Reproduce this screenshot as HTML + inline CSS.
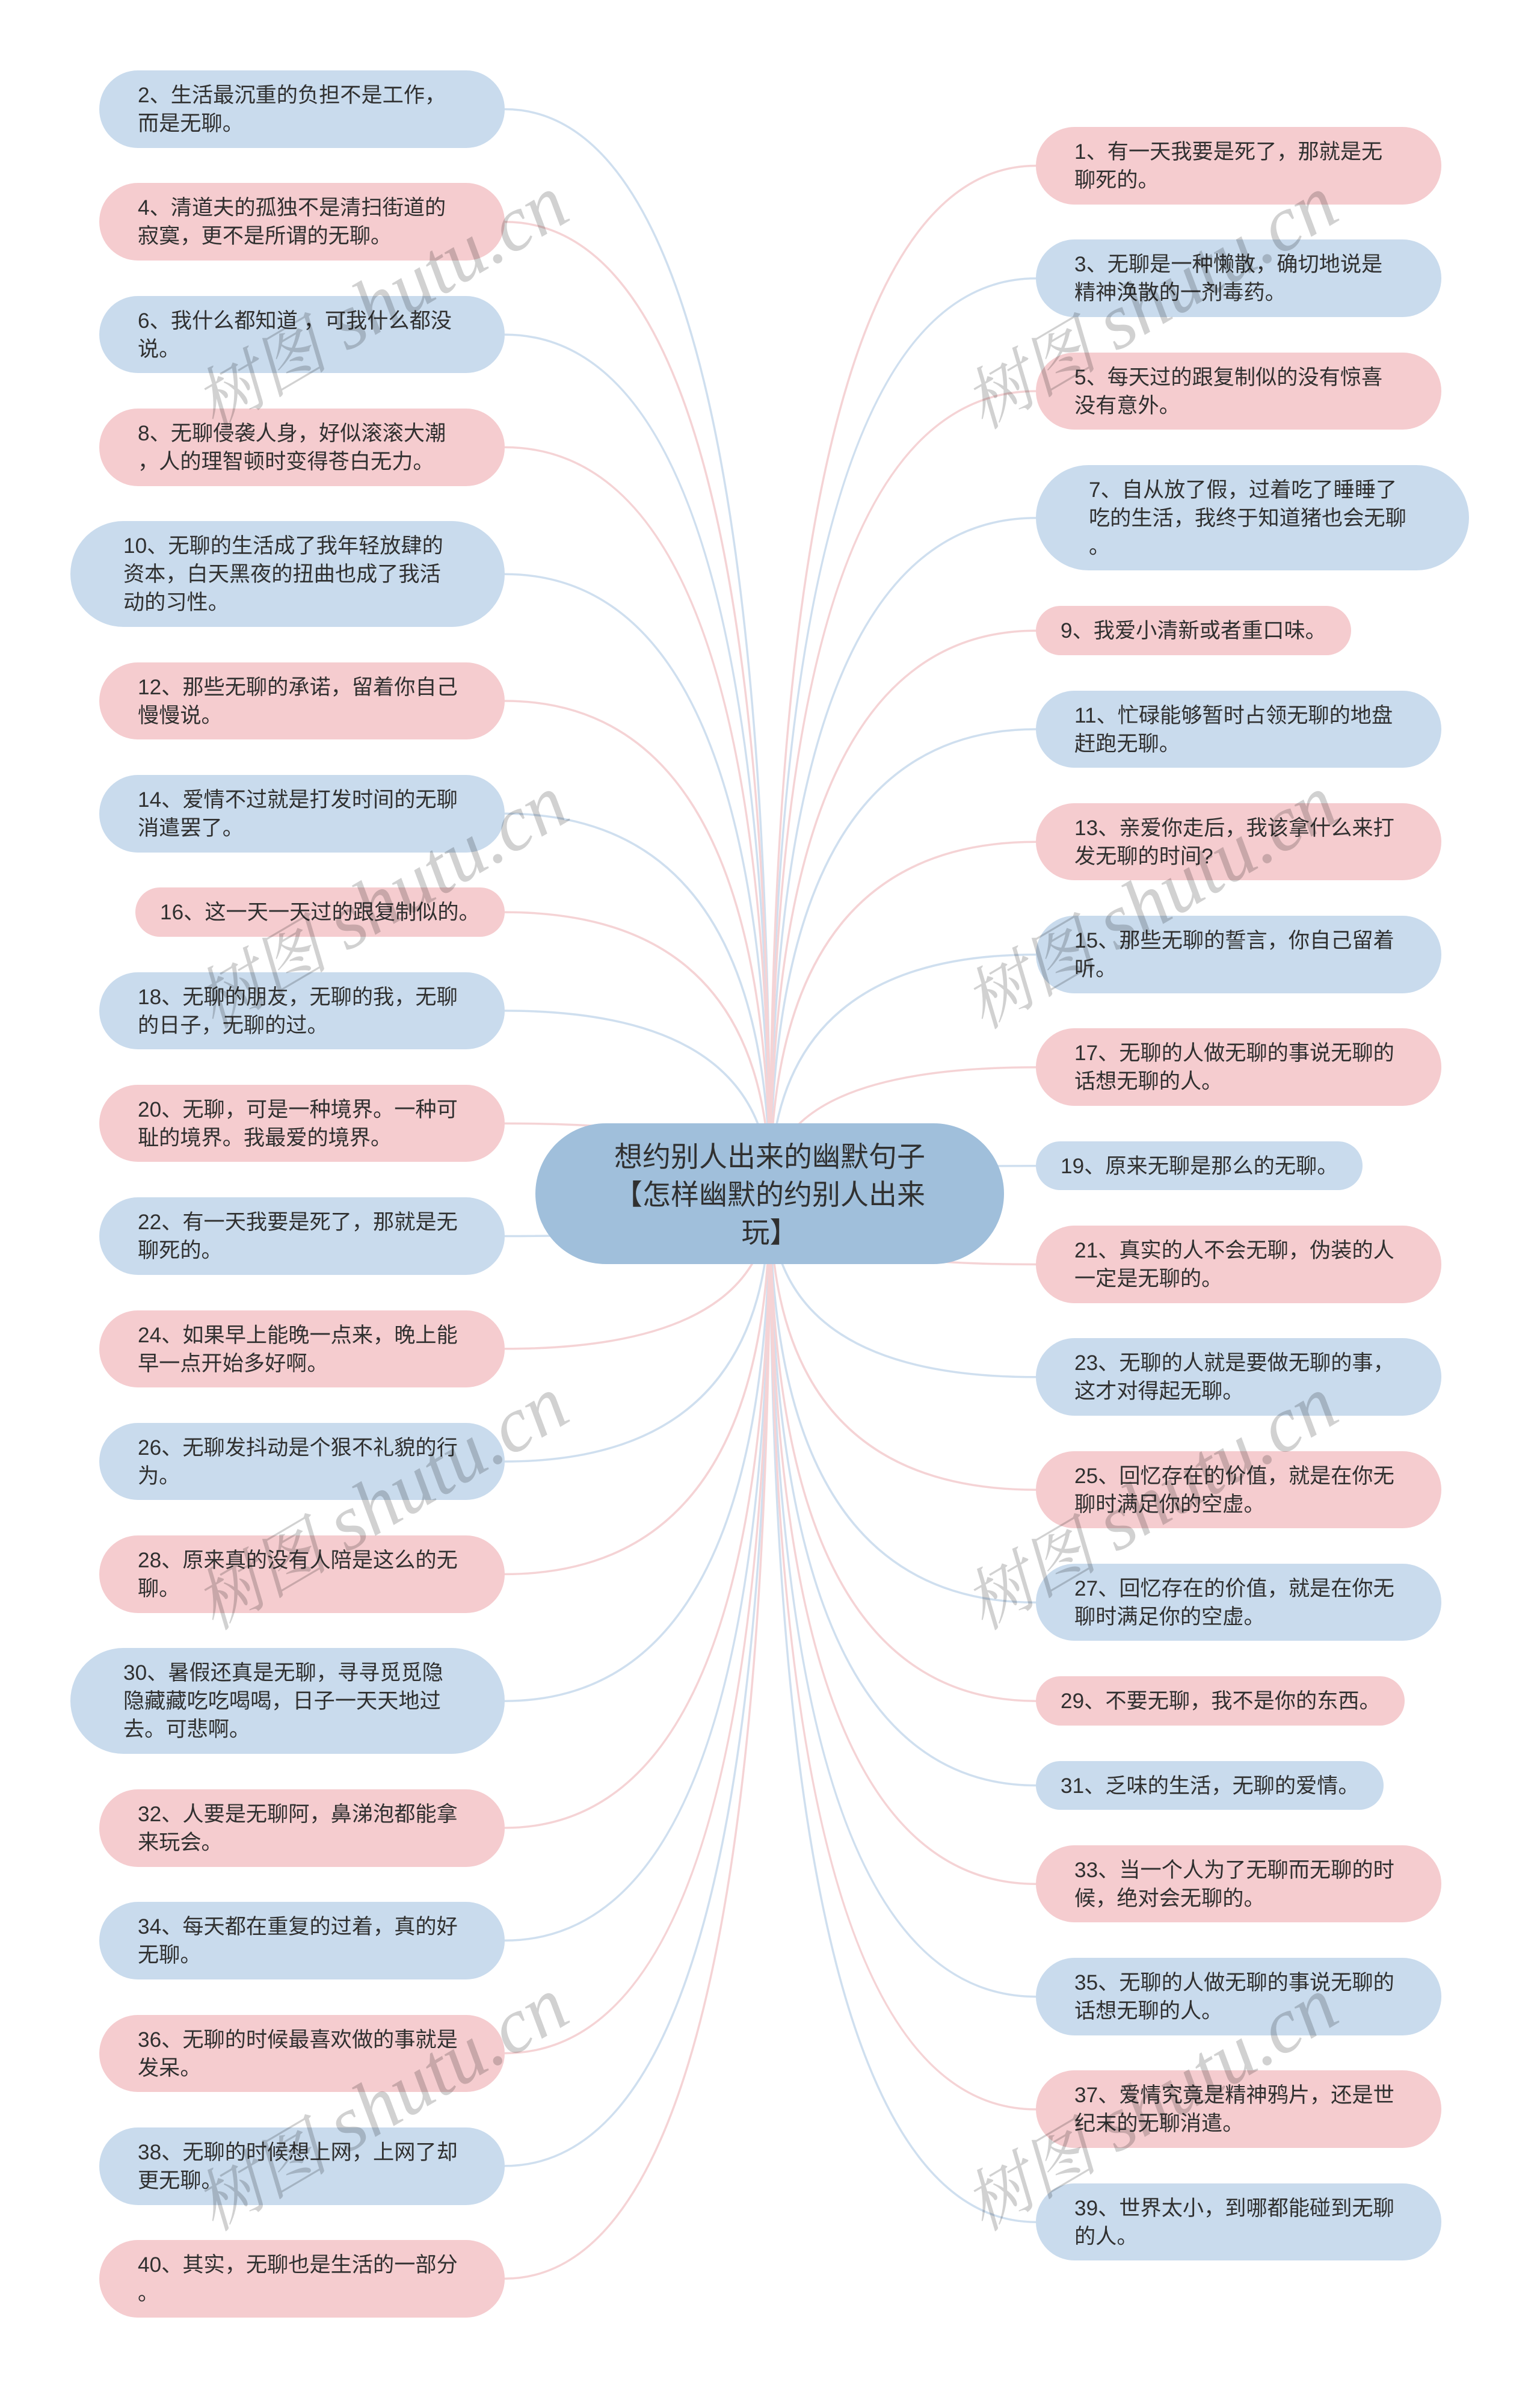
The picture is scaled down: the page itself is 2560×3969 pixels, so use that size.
<!DOCTYPE html>
<html lang="zh"><head><meta charset="utf-8"><title>想约别人出来的幽默句子</title>
<style>
html,body{margin:0;padding:0;background:#fff}
#p{position:relative;width:2560px;height:3969px;overflow:hidden;background:#fff;font-family:"Liberation Sans","Noto Sans CJK SC",sans-serif;color:#303030}
svg{position:absolute;left:0;top:0}
.n{position:absolute;box-sizing:border-box;font-size:35.2px;line-height:47px;white-space:pre;height:128.5px;border-radius:64.25px;padding:18px 0 0 64px}
.t3{height:175.5px;border-radius:88px;padding-left:88px}
.t1{height:81.5px;border-radius:41px;padding-left:41px}
.b{background:#c9dbed}.r{background:#f5cccf}
.l{left:165px;width:674px}.l.t3{left:117px;width:722px}
.g{left:1722px;width:674px}.g.t3{width:720px}
#c{position:absolute;left:890px;top:1867px;width:779px;height:234px;border-radius:117px;background:#a0bfdb;font-size:47px;line-height:63px;text-align:center;box-sizing:border-box;padding-top:23.5px;white-space:pre}
</style></head><body><div id="p">
<svg width="2560" height="3969" fill="none" stroke-width="3.5">
<g stroke="#cfdfef">
<path d="M839 181.5Q1280 181.5 1280 1984"/><path d="M839 556.1Q1280 556.1 1280 1984"/><path d="M839 954.2Q1280 954.2 1280 1984"/><path d="M839 1352.3Q1280 1352.3 1280 1984"/><path d="M839 1679.9Q1280 1679.9 1280 1984"/><path d="M839 2054.5Q1280 2054.5 1280 1984"/><path d="M839 2429.1Q1280 2429.1 1280 1984"/><path d="M839 2827.2Q1280 2827.2 1280 1984"/><path d="M839 3225.3Q1280 3225.3 1280 1984"/><path d="M839 3599.9Q1280 3599.9 1280 1984"/>
<path d="M1722 462.8Q1280 462.8 1280 1984"/><path d="M1722 860.9Q1280 860.9 1280 1984"/><path d="M1722 1212Q1280 1212 1280 1984"/><path d="M1722 1586.6Q1280 1586.6 1280 1984"/><path d="M1722 1937.7Q1280 1937.7 1280 1984"/><path d="M1722 2288.8Q1280 2288.8 1280 1984"/><path d="M1722 2663.4Q1280 2663.4 1280 1984"/><path d="M1722 2967.5Q1280 2967.5 1280 1984"/><path d="M1722 3318.6Q1280 3318.6 1280 1984"/><path d="M1722 3693.2Q1280 3693.2 1280 1984"/>
</g>
<g stroke="#f5d3d5">
<path d="M839 368.8Q1280 368.8 1280 1984"/><path d="M839 743.4Q1280 743.4 1280 1984"/><path d="M839 1165Q1280 1165 1280 1984"/><path d="M839 1516.1Q1280 1516.1 1280 1984"/><path d="M839 1867.2Q1280 1867.2 1280 1984"/><path d="M839 2241.8Q1280 2241.8 1280 1984"/><path d="M839 2616.4Q1280 2616.4 1280 1984"/><path d="M839 3038Q1280 3038 1280 1984"/><path d="M839 3412.6Q1280 3412.6 1280 1984"/><path d="M839 3787.2Q1280 3787.2 1280 1984"/>
<path d="M1722 275.5Q1280 275.5 1280 1984"/><path d="M1722 650.1Q1280 650.1 1280 1984"/><path d="M1722 1048.2Q1280 1048.2 1280 1984"/><path d="M1722 1399.3Q1280 1399.3 1280 1984"/><path d="M1722 1773.9Q1280 1773.9 1280 1984"/><path d="M1722 2101.5Q1280 2101.5 1280 1984"/><path d="M1722 2476.1Q1280 2476.1 1280 1984"/><path d="M1722 2827.2Q1280 2827.2 1280 1984"/><path d="M1722 3131.3Q1280 3131.3 1280 1984"/><path d="M1722 3505.9Q1280 3505.9 1280 1984"/>
</g>
</svg>
<div id="c">想约别人出来的幽默句子
【怎样幽默的约别人出来
玩】</div>
<div class="n l b" style="top:117px">2、生活最沉重的负担不是工作，
而是无聊。</div>
<div class="n l r" style="top:304.3px">4、清道夫的孤独不是清扫街道的
寂寞，更不是所谓的无聊。</div>
<div class="n l b" style="top:491.6px">6、我什么都知道 ，可我什么都没
说。</div>
<div class="n l r" style="top:679.1px">8、无聊侵袭人身，好似滚滚大潮
，人的理智顿时变得苍白无力。</div>
<div class="n l b t3" style="top:866.4px">10、无聊的生活成了我年轻放肆的
资本，白天黑夜的扭曲也成了我活
动的习性。</div>
<div class="n l r" style="top:1100.7px">12、那些无聊的承诺，留着你自己
慢慢说。</div>
<div class="n l b" style="top:1288px">14、爱情不过就是打发时间的无聊
消遣罢了。</div>
<div class="n r t1" style="top:1475.3px;left:225px;width:614px">16、这一天一天过的跟复制似的。</div>
<div class="n l b" style="top:1615.6px">18、无聊的朋友，无聊的我，无聊
的日子，无聊的过。</div>
<div class="n l r" style="top:1802.9px">20、无聊，可是一种境界。一种可
耻的境界。我最爱的境界。</div>
<div class="n l b" style="top:1990.2px">22、有一天我要是死了，那就是无
聊死的。</div>
<div class="n l r" style="top:2177.5px">24、如果早上能晚一点来，晚上能
早一点开始多好啊。</div>
<div class="n l b" style="top:2364.8px">26、无聊发抖动是个狠不礼貌的行
为。</div>
<div class="n l r" style="top:2552.1px">28、原来真的没有人陪是这么的无
聊。</div>
<div class="n l b t3" style="top:2739.4px">30、暑假还真是无聊，寻寻觅觅隐
隐藏藏吃吃喝喝，日子一天天地过
去。可悲啊。</div>
<div class="n l r" style="top:2974px">32、人要是无聊阿，鼻涕泡都能拿
来玩会。</div>
<div class="n l b" style="top:3161.3px">34、每天都在重复的过着，真的好
无聊。</div>
<div class="n l r" style="top:3348.6px">36、无聊的时候最喜欢做的事就是
发呆。</div>
<div class="n l b" style="top:3536px">38、无聊的时候想上网，上网了却
更无聊。</div>
<div class="n l r" style="top:3723.3px">40、其实，无聊也是生活的一部分
。</div>
<div class="n g r" style="top:211px">1、有一天我要是死了，那就是无
聊死的。</div>
<div class="n g b" style="top:398.3px">3、无聊是一种懒散，确切地说是
精神涣散的一剂毒药。</div>
<div class="n g r" style="top:585.6px">5、每天过的跟复制似的没有惊喜
没有意外。</div>
<div class="n g b t3" style="top:772.9px">7、自从放了假，过着吃了睡睡了
吃的生活，我终于知道猪也会无聊
。</div>
<div class="n g r t1" style="top:1007.2px;width:524px">9、我爱小清新或者重口味。</div>
<div class="n g b" style="top:1147.5px">11、忙碌能够暂时占领无聊的地盘
赶跑无聊。</div>
<div class="n g r" style="top:1334.8px">13、亲爱你走后，我该拿什么来打
发无聊的时间?</div>
<div class="n g b" style="top:1522.1px">15、那些无聊的誓言，你自己留着
听。</div>
<div class="n g r" style="top:1709.4px">17、无聊的人做无聊的事说无聊的
话想无聊的人。</div>
<div class="n g b t1" style="top:1896.7px;width:543px">19、原来无聊是那么的无聊。</div>
<div class="n g r" style="top:2037px">21、真实的人不会无聊，伪装的人
一定是无聊的。</div>
<div class="n g b" style="top:2224.3px">23、无聊的人就是要做无聊的事，
这才对得起无聊。</div>
<div class="n g r" style="top:2411.6px">25、回忆存在的价值，就是在你无
聊时满足你的空虚。</div>
<div class="n g b" style="top:2598.9px">27、回忆存在的价值，就是在你无
聊时满足你的空虚。</div>
<div class="n g r t1" style="top:2786.2px;width:613px">29、不要无聊，我不是你的东西。</div>
<div class="n g b t1" style="top:2926.5px;width:578px">31、乏味的生活，无聊的爱情。</div>
<div class="n g r" style="top:3066.8px">33、当一个人为了无聊而无聊的时
候，绝对会无聊的。</div>
<div class="n g b" style="top:3254.1px">35、无聊的人做无聊的事说无聊的
话想无聊的人。</div>
<div class="n g r" style="top:3441.4px">37、爱情究竟是精神鸦片，还是世
纪末的无聊消遣。</div>
<div class="n g b" style="top:3628.7px">39、世界太小，到哪都能碰到无聊
的人。</div>
<svg width="2560" height="3969" font-family="'Liberation Serif','Noto Serif CJK SC',serif" font-style="italic" font-size="130" fill="#000" fill-opacity=".18" text-anchor="middle">
<text transform="translate(654 539) rotate(-30.5)"><tspan font-size="112">树图</tspan> shutu.cn</text>
<text transform="translate(1933 539) rotate(-30.5)"><tspan font-size="112">树图</tspan> shutu.cn</text>
<text transform="translate(654 1536) rotate(-30.5)"><tspan font-size="112">树图</tspan> shutu.cn</text>
<text transform="translate(1933 1536) rotate(-30.5)"><tspan font-size="112">树图</tspan> shutu.cn</text>
<text transform="translate(654 2535) rotate(-30.5)"><tspan font-size="112">树图</tspan> shutu.cn</text>
<text transform="translate(1933 2535) rotate(-30.5)"><tspan font-size="112">树图</tspan> shutu.cn</text>
<text transform="translate(654 3534) rotate(-30.5)"><tspan font-size="112">树图</tspan> shutu.cn</text>
<text transform="translate(1933 3534) rotate(-30.5)"><tspan font-size="112">树图</tspan> shutu.cn</text>
</svg>
</div></body></html>
